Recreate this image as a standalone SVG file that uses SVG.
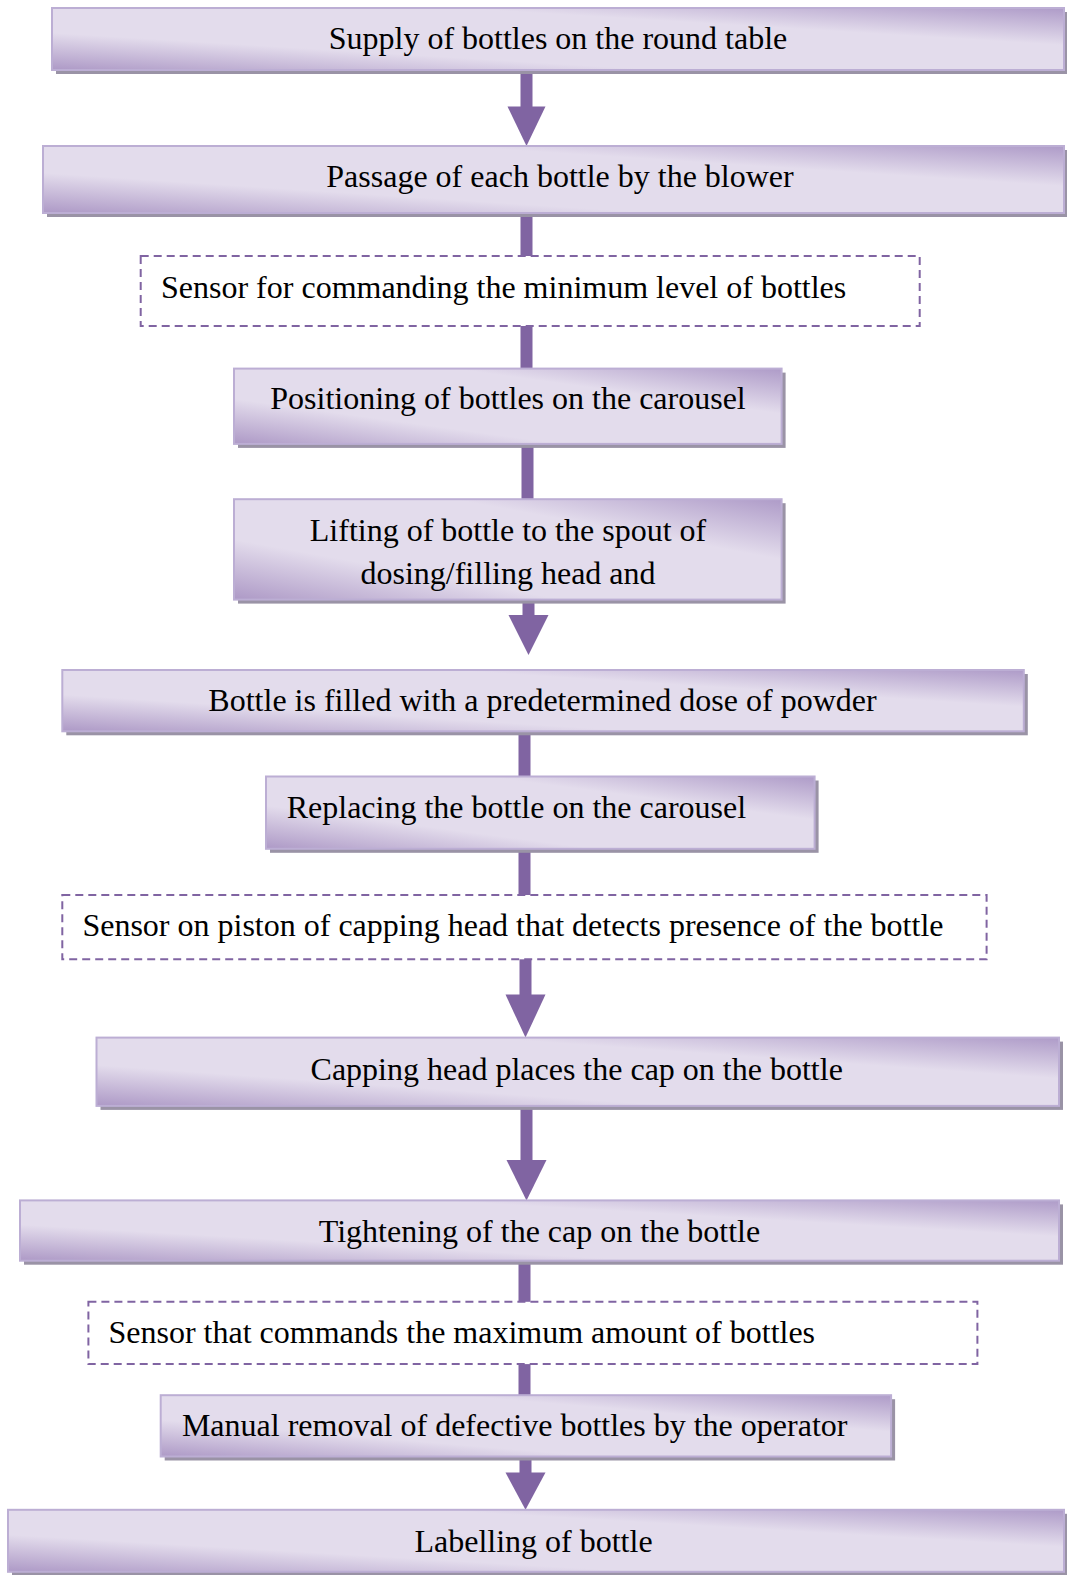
<svg xmlns="http://www.w3.org/2000/svg" width="1067" height="1575" viewBox="0 0 1067 1575">
<defs>
<linearGradient id="g" x1="0" y1="1" x2="1" y2="0">
<stop offset="0" stop-color="#ad99c6"/>
<stop offset="0.3" stop-color="#e3dcec"/>
<stop offset="0.7" stop-color="#e3dcec"/>
<stop offset="1" stop-color="#ae9bc8"/>
</linearGradient>
</defs>
<style>
.sh{fill:#9a93a6}
.bx{fill:url(#g);stroke:#bcaed4;stroke-width:2}
.ds{fill:#ffffff;stroke:#8064a2;stroke-width:2;stroke-dasharray:8 5}
.t{font-family:"Liberation Serif","Times New Roman",serif;font-size:32px;fill:#000}
.c{text-anchor:middle}
.ln{fill:#8064a2}
</style>
<g id="connectors">
<rect class="ln" x="520.5" y="70" width="12" height="37"/><polygon class="ln" points="507.5,106.5 545.5,106.5 526.5,146"/>
<rect class="ln" x="520.5" y="213" width="12" height="44"/>
<rect class="ln" x="520.5" y="326" width="12" height="43"/>
<rect class="ln" x="521.5" y="444" width="12" height="56"/>
<rect class="ln" x="522.5" y="599" width="12" height="17"/><polygon class="ln" points="508.5,615 548.5,615 528.5,655"/>
<rect class="ln" x="518.5" y="731" width="12" height="46"/>
<rect class="ln" x="518.5" y="848" width="12" height="48"/>
<rect class="ln" x="519.5" y="959" width="12" height="36"/><polygon class="ln" points="505.5,994.5 545.5,994.5 525.5,1037.6"/>
<rect class="ln" x="520.5" y="1105" width="12" height="56"/><polygon class="ln" points="506.5,1160 546.5,1160 526.5,1200.4"/>
<rect class="ln" x="518.5" y="1260" width="12" height="42"/>
<rect class="ln" x="518.5" y="1364" width="12" height="32"/>
<rect class="ln" x="519.5" y="1456" width="12" height="17"/><polygon class="ln" points="505.5,1472.6 545.5,1472.6 525.5,1509.8"/>
</g>
<g id="n1"><rect class="sh" x="56" y="12" width="1011" height="62"/><rect class="bx" x="52" y="8" width="1012" height="62"/><text class="t c" x="558" y="49">Supply of bottles on the round table</text></g>
<g id="n2"><rect class="sh" x="47" y="150" width="1020" height="67"/><rect class="bx" x="43" y="146" width="1021" height="67"/><text class="t c" x="560" y="187">Passage of each bottle by the blower</text></g>
<g id="n3"><rect class="ds" x="140.7" y="256" width="779" height="70"/><text class="t" x="161" y="298">Sensor for commanding the minimum level of bottles</text></g>
<g id="n4"><rect class="sh" x="238" y="372.6" width="547.6" height="75.3"/><rect class="bx" x="234" y="368.6" width="547.6" height="75.3"/><text class="t c" x="508" y="409">Positioning of bottles on the carousel</text></g>
<g id="n5"><rect class="sh" x="238" y="503.2" width="547.6" height="100.4"/><rect class="bx" x="234" y="499.2" width="547.6" height="100.4"/><text class="t c" x="508" y="541">Lifting of bottle to the spout of</text><text class="t c" x="508" y="583.6">dosing/filling head and</text></g>
<g id="n6"><rect class="sh" x="66.3" y="674" width="961.5" height="61.3"/><rect class="bx" x="62.3" y="670" width="961.5" height="61.3"/><text class="t c" x="542.5" y="711">Bottle is filled with a predetermined dose of powder</text></g>
<g id="n7"><rect class="sh" x="270" y="780.5" width="548.6" height="72.3"/><rect class="bx" x="266" y="776.5" width="548.6" height="72.3"/><text class="t c" x="516.4" y="817.6">Replacing the bottle on the carousel</text></g>
<g id="n8"><rect class="ds" x="62.3" y="895" width="924.3" height="64.3"/><text class="t" x="82.4" y="936">Sensor on piston of capping head that detects presence of the bottle</text></g>
<g id="n9"><rect class="sh" x="100.5" y="1041.6" width="962.5" height="68.3"/><rect class="bx" x="96.5" y="1037.6" width="962.5" height="68.3"/><text class="t c" x="576.7" y="1079.8">Capping head places the cap on the bottle</text></g>
<g id="n10"><rect class="sh" x="24" y="1204.4" width="1039" height="60.3"/><rect class="bx" x="20" y="1200.4" width="1039" height="60.3"/><text class="t c" x="539.5" y="1241.5">Tightening of the cap on the bottle</text></g>
<g id="n11"><rect class="ds" x="88.4" y="1301.8" width="889" height="62.3"/><text class="t" x="108.5" y="1343">Sensor that commands the maximum amount of bottles</text></g>
<g id="n12"><rect class="sh" x="164.7" y="1399.2" width="730.4" height="61.3"/><rect class="bx" x="160.7" y="1395.2" width="730.4" height="61.3"/><text class="t" x="181.9" y="1436.4">Manual removal of defective bottles by the operator</text></g>
<g id="n13"><rect class="sh" x="12" y="1513.8" width="1055" height="62"/><rect class="bx" x="8" y="1509.8" width="1056" height="62"/><text class="t c" x="533.5" y="1552">Labelling of bottle</text></g>
</svg>
